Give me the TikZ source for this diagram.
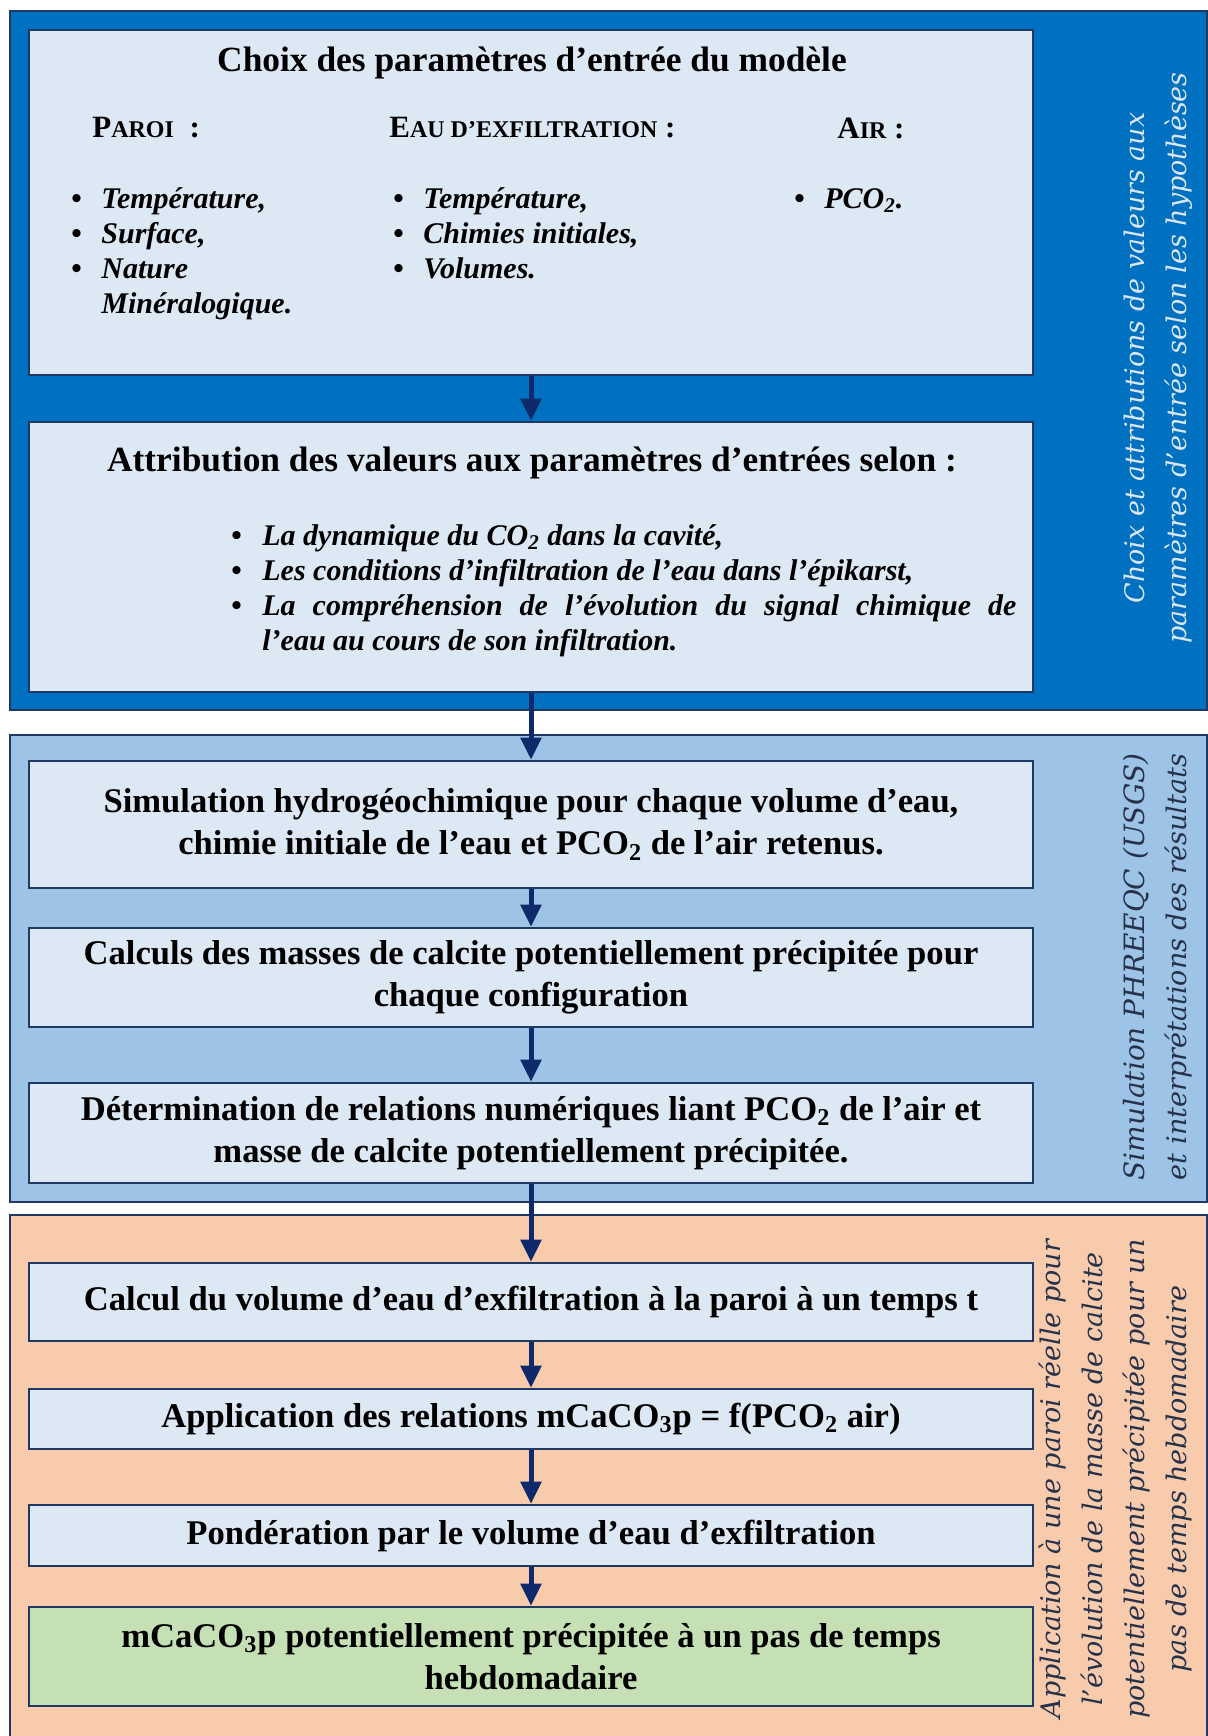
\documentclass[tikz,border=0pt]{standalone}
\usepackage{fontspec}
\setmainfont{Liberation Serif}
\newfontfamily\sidefont[Ligatures=TeX]{DejaVu Serif}
\usetikzlibrary{arrows.meta, positioning}
\definecolor{cnavy}{HTML}{1F3864}
\definecolor{carrow}{HTML}{0E2A6B}
\definecolor{cblue}{HTML}{0070C0}
\definecolor{lightblue}{HTML}{9DC3E6}
\definecolor{lightorange}{HTML}{F8CBAD}
\definecolor{lightgreen}{HTML}{C5E0B4}
\definecolor{boxfill}{HTML}{DDE8F5}
\definecolor{sidelight}{HTML}{DAE6F4}
\definecolor{sidedark}{HTML}{26324A}

\newlength{\puceind}
\setlength{\puceind}{15pt}
\newcommand{\fauxsc}[2]{#1{\fontsize{12}{14}\selectfont #2}}
\newcommand{\puce}[1]{\par\hangindent=\puceind\hangafter=1\noindent\makebox[\puceind][l]{\textbullet}\textit{#1}}

\tikzset{
  panel/.style={draw=cnavy, line width=1pt, minimum width=598.5pt, anchor=north west, inner sep=0pt},
  etape/.style={draw=cnavy, line width=1.3pt, fill=boxfill, minimum width=502pt, inner sep=0pt,
    align=center, font=\bfseries\fontsize{17.3}{21}\selectfont},
  titre/.style={inner sep=0pt, font=\bfseries\fontsize{17.7}{21}\selectfont},
  entete/.style={inner sep=0pt, anchor=west, font=\bfseries\fontsize{15.5}{18}\selectfont},
  liste/.style={inner sep=0pt, anchor=base west, font=\bfseries\fontsize{15}{17.5}\selectfont},
  fleche/.style={-{Triangle[length=11pt,width=10pt]}, line width=2.5pt, draw=carrow},
  cote/.style={rotate=90, inner sep=0pt, align=center, font=\sidefont\itshape\fontsize{13.5}{21}\selectfont}
}

\begin{document}
\begin{tikzpicture}[x=0.5pt, y=-0.5pt]
  \useasboundingbox (0,0) rectangle (1208,1736);

  % bandeaux
  \node[panel, fill=cblue, minimum height=349.5pt] (p1) at (9,10) {};
  \node[panel, fill=lightblue, minimum height=233.5pt] (p2) at (9,734) {};
  \node[panel, fill=lightorange, minimum height=265.5pt] (p3) at (9,1214) {};

  % parametres d'entree
  \node[etape, minimum height=172.5pt] (choix) at (531,202.5) {};
  \node[titre] (choixT) at (532,63) {Choix des paramètres d'entrée du modèle};
  \node[entete] (paroi) at (92,128) {\fauxsc{P}{AROI}\ \ :};
  \node[entete] (eau) at (389,128) {\fauxsc{E}{AU D'EXFILTRATION}\ :};
  \node[entete] (air) at (837,128) {\fauxsc{A}{IR}\ :};
  \node[liste] (paroiL) at (71,208) {\parbox[t]{150pt}{\puce{Température,}\puce{Surface,}\puce{Nature\newline Minéralogique.}}};
  \node[liste] (eauL) at (393,208) {\parbox[t]{170pt}{\puce{Température,}\puce{Chimies initiales,}\puce{Volumes.}}};
  \node[liste] (airL) at (794,208) {\parbox[t]{70pt}{\puce{PCO\textsubscript{2}.}}};

  \node[etape, minimum height=135pt] (attrib) at (531,557) {};
  \node[titre] (attribT) at (532,463) {Attribution des valeurs aux paramètres d'entrées selon :};
  \node[liste] (attribL) at (231,545) {\setlength{\puceind}{15.5pt}\parbox[t]{392.5pt}{%
    \puce{La dynamique du CO\textsubscript{2} dans la cavité,}%
    \puce{Les conditions d'infiltration de l'eau dans l'épikarst,}%
    \puce{La compréhension de l'évolution du signal chimique de\linebreak l'eau au cours de son infiltration.}}};

  % simulation
  \node[etape, minimum height=63.5pt] (simul) at (531,824.5) {Simulation hydrogéochimique pour chaque volume d'eau,\\chimie initiale de l'eau et PCO\textsubscript{2} de l'air retenus.};
  \node[etape, minimum height=49.5pt] (calculs) at (531,977.5) {Calculs des masses de calcite potentiellement précipitée pour\\chaque configuration};
  \node[etape, minimum height=50pt] (determ) at (531,1133) {Détermination de relations numériques liant PCO\textsubscript{2} de l'air et\\masse de calcite potentiellement précipitée.};

  % application
  \node[etape, minimum height=39pt] (volume) at (531,1302) {Calcul du volume d'eau d'exfiltration à la paroi à un temps t};
  \node[etape, minimum height=30pt] (applic) at (531,1419) {Application des relations mCaCO\textsubscript{3}p = f(PCO\textsubscript{2} air)};
  \node[etape, minimum height=30.5pt] (ponder) at (531,1535.5) {Pondération par le volume d'eau d'exfiltration};
  \node[etape, fill=lightgreen, minimum height=49.5pt] (resultat) at (531,1656.5) {mCaCO\textsubscript{3}p potentiellement précipitée à un pas de temps\\hebdomadaire};

  \foreach \a/\b in {choix/attrib, attrib/simul, simul/calculs, calculs/determ,
                     determ/volume, volume/applic, applic/ponder, ponder/resultat}
    \draw[fleche] (\a) -- (\b);

  \node[cote, text=sidelight] (hypo) at (1158,358) {Choix et attributions de valeurs aux\\paramètres d'entrée selon les hypothèses};
  \node[cote, text=sidedark] (phreeqc) at (1158,967) {\fontsize{14}{21}\selectfont Simulation PHREEQC (USGS)\\et interprétations des résultats};
  \node[cote, text=sidedark] (appli) at (1115,1479) {Application à une paroi réelle pour\\l'évolution de la masse de calcite\\potentiellement précipitée pour un\\pas de temps hebdomadaire};
\end{tikzpicture}
\end{document}
